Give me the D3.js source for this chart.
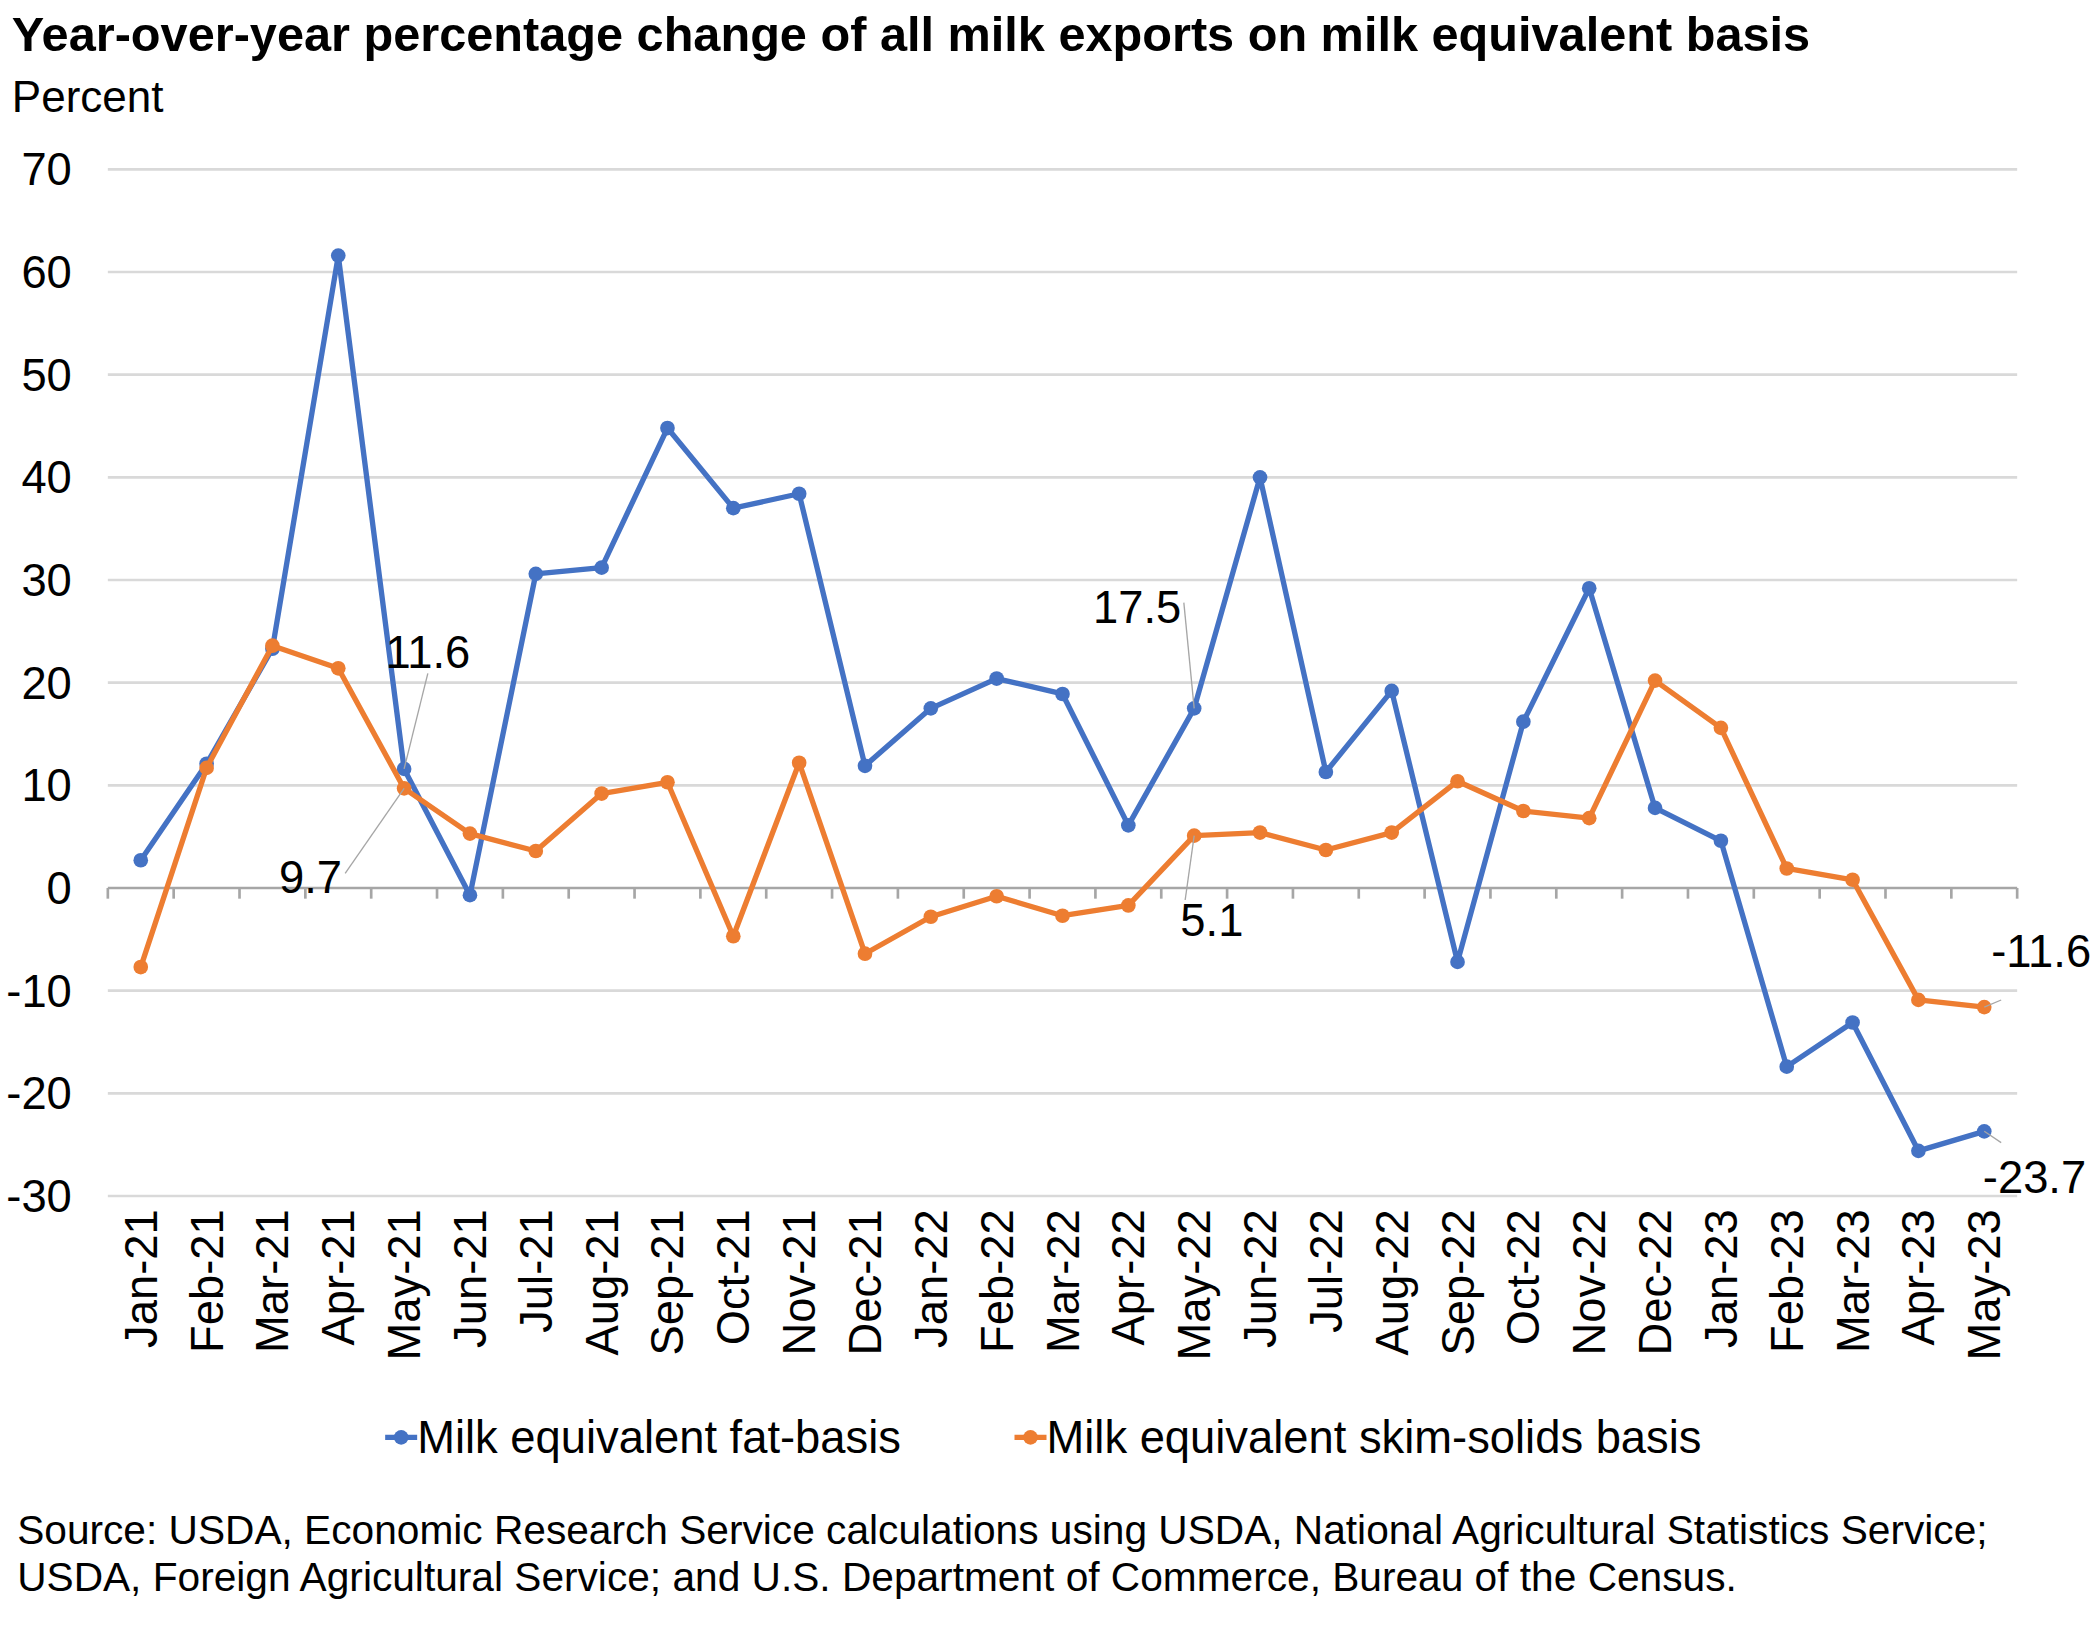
<!DOCTYPE html><html><head><meta charset="utf-8"><script src="https://cdn.jsdelivr.net/npm/d3@7"></script>
<style>body{margin:0;background:#fff}svg{font-family:"Liberation Sans",Arial,sans-serif}</style></head><body>
<svg id="c" width="2093" height="1632" viewBox="0 0 1568 1224"></svg>
<script>
const months=["Jan-21","Feb-21","Mar-21","Apr-21","May-21","Jun-21","Jul-21","Aug-21","Sep-21","Oct-21","Nov-21","Dec-21","Jan-22","Feb-22","Mar-22","Apr-22","May-22","Jun-22","Jul-22","Aug-22","Sep-22","Oct-22","Nov-22","Dec-22","Jan-23","Feb-23","Mar-23","Apr-23","May-23"];
const fatBasis=[2.7,12.1,23.3,61.6,11.6,-0.7,30.6,31.2,44.8,37.0,38.4,11.9,17.5,20.4,18.9,6.1,17.5,40.0,11.3,19.2,-7.2,16.2,29.2,7.8,4.6,-17.4,-13.1,-25.6,-23.7];
const skimBasis=[-7.7,11.7,23.6,21.4,9.7,5.3,3.6,9.2,10.3,-4.7,12.2,-6.4,-2.8,-0.8,-2.7,-1.7,5.1,5.4,3.7,5.4,10.4,7.5,6.8,20.2,15.6,1.9,0.8,-10.9,-11.6];
const yTicks=[-30,-20,-10,0,10,20,30,40,50,60,70];
const seriesNames=["Milk equivalent fat-basis","Milk equivalent skim-solids basis"];
const colors=["#4472c4","#ed7d31"];
const svg=d3.select("#c");
const x=d3.scaleBand().domain(months).range([80,1512]);
const y=d3.scaleLinear().domain([-30,70]).range([897,127]);
const cx=m=>x(m)+x.bandwidth()/2;
const F=34;
svg.append("text").attr("x",8).attr("y",38).attr("font-size",36.5).attr("font-weight","bold").text("Year-over-year percentage change of all milk exports on milk equivalent basis");
svg.append("text").attr("x",8).attr("y",84).attr("font-size",33).text("Percent");
yTicks.forEach(t=>{
  if(t!==0) svg.append("line").attr("x1",80).attr("x2",1512).attr("y1",y(t)).attr("y2",y(t)).attr("stroke","#d9d9d9").attr("stroke-width",2);
  svg.append("text").attr("x",53).attr("y",y(t)+12).attr("text-anchor","end").attr("font-size",F).text(t);
});
svg.append("line").attr("x1",80).attr("x2",1512).attr("y1",y(0)).attr("y2",y(0)).attr("stroke","#a6a6a6").attr("stroke-width",2);
months.concat(["end"]).forEach((m,i)=>{const xx=i<months.length?x(m):1512;
  svg.append("line").attr("x1",xx).attr("x2",xx).attr("y1",y(0)).attr("y2",y(0)+8).attr("stroke","#a6a6a6").attr("stroke-width",2);});
months.forEach(m=>{svg.append("text").attr("transform",`translate(${cx(m)+12},907) rotate(-90)`).attr("text-anchor","end").attr("font-size",F).text(m);});
[fatBasis,skimBasis].forEach((vals,k)=>{
  const line=d3.line().x((d,i)=>cx(months[i])).y(d=>y(d));
  svg.append("path").attr("d",line(vals)).attr("fill","none").attr("stroke",colors[k]).attr("stroke-width",4).attr("stroke-linejoin","round");
  svg.selectAll(null).data(vals).enter().append("circle").attr("cx",(d,i)=>cx(months[i])).attr("cy",d=>y(d)).attr("r",5.5).attr("fill",colors[k]);
});
const labels=[{i:4,v:fatBasis[4],tx:320,ty:501,lx:320,ly:505},
{i:4,v:skimBasis[4],tx:232,ty:670,lx:258,ly:655},
{i:16,v:fatBasis[16],tx:852,ty:467,lx:887,ly:452},
{i:16,v:skimBasis[16],tx:908,ty:702,lx:888,ly:675},
{i:28,v:skimBasis[28],tx:1530,ty:725,lx:1500,ly:750},
{i:28,v:fatBasis[28],tx:1525,ty:895,lx:1500,ly:857}];
labels.forEach(l=>{
  svg.append("line").attr("x1",cx(months[l.i])).attr("y1",y(l.v)).attr("x2",l.lx).attr("y2",l.ly).attr("stroke","#a6a6a6").attr("stroke-width",1);
  svg.append("text").attr("x",l.tx).attr("y",l.ty).attr("text-anchor","middle").attr("font-size",F).text(l.v.toFixed(1));
});
[[288,seriesNames[0]],[760,seriesNames[1]]].forEach(([lx,name],k)=>{
  svg.append("line").attr("x1",lx).attr("x2",lx+24).attr("y1",1078).attr("y2",1078).attr("stroke",colors[k]).attr("stroke-width",4);
  svg.append("circle").attr("cx",lx+12).attr("cy",1078).attr("r",5.5).attr("fill",colors[k]);
  svg.append("text").attr("x",lx+24).attr("y",1090).attr("font-size",F).text(name);
});
svg.append("text").attr("x",12).attr("y",1158).attr("font-size",30.5).text("Source: USDA, Economic Research Service calculations using USDA, National Agricultural Statistics Service;");
svg.append("text").attr("x",12).attr("y",1193).attr("font-size",30.5).text("USDA, Foreign Agricultural Service; and U.S. Department of Commerce, Bureau of the Census.");
</script></body></html>
